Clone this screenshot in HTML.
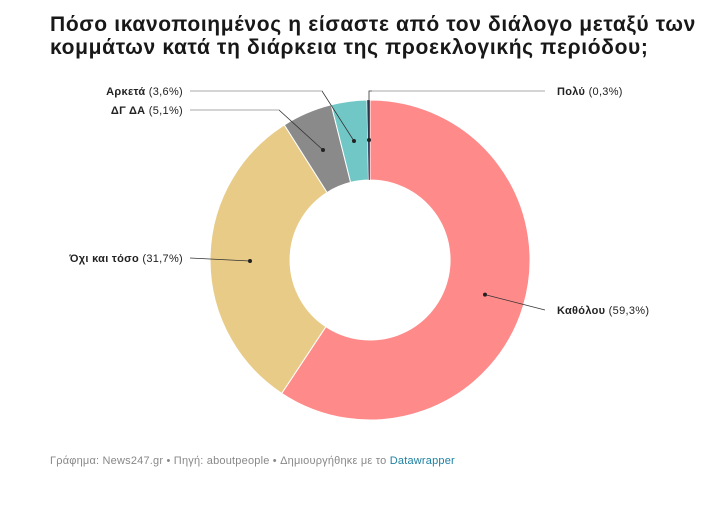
<!DOCTYPE html>
<html><head><meta charset="utf-8"><style>
body{margin:0;background:#fff;width:727px;height:519px;overflow:hidden;font-family:"Liberation Sans",sans-serif}
h1{position:absolute;left:50px;top:13px;margin:0;font-size:21px;line-height:23px;font-weight:bold;color:#181818;letter-spacing:0.65px;white-space:nowrap}
.f{position:absolute;left:50px;top:455px;font-size:11px;color:#888;letter-spacing:0.2px}
.f span{color:#1d81a2}
</style></head><body>
<h1>Πόσο ικανοποιημένος η είσαστε από τον διάλογο μεταξύ των<br>κομμάτων κατά τη διάρκεια της προεκλογικής περιόδου;</h1>
<svg width="727" height="519" style="position:absolute;left:0;top:0" font-family="Liberation Sans, sans-serif" font-size="11" letter-spacing="0.3">
<g stroke="#fff" stroke-width="1">
<path d="M370,100 A160,160 0 1 1 281.7,393.4 L325.9,326.7 A80,80 0 1 0 370,180 Z" fill="#ff8a8a"/>
<path d="M281.7,393.4 A160,160 0 0 1 284.3,124.9 L327.1,192.5 A80,80 0 0 0 325.9,326.7 Z" fill="#e8cb87"/>
<path d="M284.3,124.9 A160,160 0 0 1 331.2,104.8 L350.6,182.4 A80,80 0 0 0 327.1,192.5 Z" fill="#8a8a8a"/>
<path d="M331.2,104.8 A160,160 0 0 1 367,100 L368.5,180 A80,80 0 0 0 350.6,182.4 Z" fill="#71c7c6"/>
<path d="M367,100 A160,160 0 0 1 370,100 L370,180 A80,80 0 0 0 368.5,180 Z" fill="#2a3a5a" stroke-width="0.3"/>
</g>
<g stroke="#333" stroke-width="0.8" fill="none">
<polyline points="485,294.6 545,310"/>
<polyline points="250,261 190,258"/>
<polyline points="323,150 279,110 190,110"/>
<polyline points="354,141 322,91 190,91"/>
<polyline points="369,140 369,91 545,91"/>
</g>
<g stroke="#aaa" stroke-width="1"><line x1="190" y1="91" x2="322" y2="91"/><line x1="190" y1="110" x2="279" y2="110"/><line x1="372" y1="91" x2="545" y2="91"/></g>
<g fill="#222"><circle cx="485" cy="294.6" r="2"/><circle cx="250" cy="261" r="2"/><circle cx="323" cy="150" r="2"/><circle cx="354" cy="141" r="2"/><circle cx="369" cy="140" r="2"/></g>
<g fill="#222">
<text x="557" y="314"><tspan font-weight="bold">Καθόλου</tspan> (59,3%)</text>
<text x="557" y="95"><tspan font-weight="bold">Πολύ</tspan> (0,3%)</text>
<text x="183" y="262" text-anchor="end"><tspan font-weight="bold">Όχι και τόσο</tspan> (31,7%)</text>
<text x="183" y="114" text-anchor="end"><tspan font-weight="bold">ΔΓ ΔΑ</tspan> (5,1%)</text>
<text x="183" y="95" text-anchor="end"><tspan font-weight="bold">Αρκετά</tspan> (3,6%)</text>
</g>
</svg>
<div class="f">Γράφημα: News247.gr • Πηγή: aboutpeople • Δημιουργήθηκε με το <span>Datawrapper</span></div>
</body></html>
